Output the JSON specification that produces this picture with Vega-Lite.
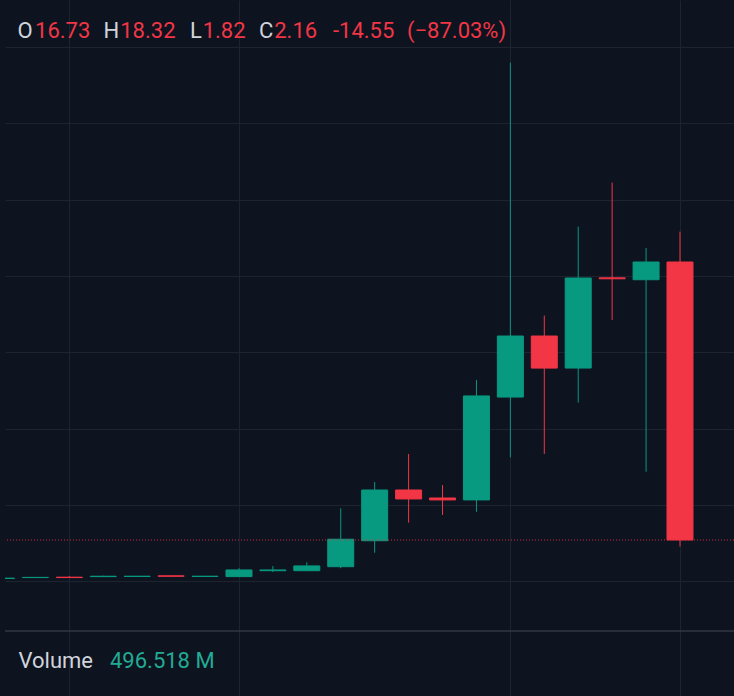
{
  "$schema": "https://vega.github.io/schema/vega-lite/v6.json",
  "width": 729,
  "height": 696,
  "autosize": {"type": "none"},
  "padding": {"left": 5, "top": 0, "right": 0, "bottom": 0},
  "background": "#0e1320",
  "config": {
    "view": {"stroke": null},
    "axis": {"labels": false, "ticks": false, "domain": false, "title": null, "grid": true, "gridColor": "#1e2330", "gridWidth": 1}
  },
  "layer": [
    {
      "data": {
        "values": [
          {"i": 0, "open": 0.14, "high": 0.17, "low": 0.13, "close": 0.16},
          {"i": 1, "open": 0.19, "high": 0.21, "low": 0.18, "close": 0.20},
          {"i": 2, "open": 0.21, "high": 0.27, "low": 0.18, "close": 0.19},
          {"i": 3, "open": 0.24, "high": 0.29, "low": 0.22, "close": 0.26},
          {"i": 4, "open": 0.25, "high": 0.27, "low": 0.24, "close": 0.26},
          {"i": 5, "open": 0.28, "high": 0.29, "low": 0.25, "close": 0.26},
          {"i": 6, "open": 0.25, "high": 0.27, "low": 0.24, "close": 0.26},
          {"i": 7, "open": 0.24, "high": 0.68, "low": 0.22, "close": 0.59},
          {"i": 8, "open": 0.55, "high": 0.79, "low": 0.48, "close": 0.59},
          {"i": 9, "open": 0.55, "high": 0.99, "low": 0.53, "close": 0.80},
          {"i": 10, "open": 0.76, "high": 3.82, "low": 0.68, "close": 2.20},
          {"i": 11, "open": 2.12, "high": 5.20, "low": 1.49, "close": 4.78},
          {"i": 12, "open": 4.78, "high": 6.67, "low": 3.07, "close": 4.31},
          {"i": 13, "open": 4.36, "high": 5.04, "low": 3.47, "close": 4.26},
          {"i": 14, "open": 4.26, "high": 10.55, "low": 3.64, "close": 9.71},
          {"i": 15, "open": 9.65, "high": 27.18, "low": 6.49, "close": 12.85},
          {"i": 16, "open": 12.85, "high": 13.92, "low": 6.67, "close": 11.17},
          {"i": 17, "open": 11.17, "high": 18.58, "low": 9.36, "close": 15.89},
          {"i": 18, "open": 15.90, "high": 20.89, "low": 13.69, "close": 15.85},
          {"i": 19, "open": 15.80, "high": 17.46, "low": 5.74, "close": 16.73},
          {"i": 20, "open": 16.73, "high": 18.32, "low": 1.82, "close": 2.16}
        ]
      },
      "layer": [
        {
          "mark": {"type": "rule", "clip": true, "strokeWidth": 1},
          "encoding": {
            "x": {"field": "i", "type": "quantitative", "scale": {"domain": [0.1032, 21.592], "nice": false, "zero": false, "padding": 0}, "axis": {"values": [2, 7, 15, 20]}},
            "y": {"field": "low", "type": "quantitative", "scale": {"domain": [-6.017, 30.461], "nice": false, "zero": false, "padding": 0}, "axis": {"values": [0, 4, 8, 12, 16, 20, 24, 28]}},
            "y2": {"field": "high"},
            "color": {"condition": {"test": "datum.close < datum.open", "value": "#f23645"}, "value": "#089981"}
          }
        },
        {
          "mark": {"type": "bar", "clip": true, "width": 26, "strokeWidth": 1},
          "encoding": {
            "x": {"field": "i", "type": "quantitative"},
            "y": {"field": "open", "type": "quantitative"},
            "y2": {"field": "close"},
            "color": {"condition": {"test": "datum.close < datum.open", "value": "#f23645"}, "value": "#089981"},
            "stroke": {"condition": {"test": "datum.close < datum.open", "value": "#f23645"}, "value": "#089981"}
          }
        }
      ]
    },
    {
      "data": {"values": [{}]},
      "layer": [
        {"mark": {"type": "rule", "color": "#f23645", "opacity": 0.85, "strokeDash": [1, 2], "strokeWidth": 1}, "encoding": {"y": {"datum": 2.16}}},
        {"mark": {"type": "rule", "color": "#323742", "strokeWidth": 1.5}, "encoding": {"y": {"datum": -2.61}}},
        {"mark": {"type": "text", "align": "left", "baseline": "alphabetic", "font": "Roboto", "fontSize": 22, "color": "#d1d4dc", "text": "O"}, "encoding": {"x": {"datum": 0.4716}, "y": {"datum": 28.47}}},
        {"mark": {"type": "text", "align": "left", "baseline": "alphabetic", "font": "Roboto", "fontSize": 22, "color": "#f23645", "text": "16.73"}, "encoding": {"x": {"datum": 0.99}, "y": {"datum": 28.47}}},
        {"mark": {"type": "text", "align": "left", "baseline": "alphabetic", "font": "Roboto", "fontSize": 22, "color": "#d1d4dc", "text": "H"}, "encoding": {"x": {"datum": 3.0066}, "y": {"datum": 28.47}}},
        {"mark": {"type": "text", "align": "left", "baseline": "alphabetic", "font": "Roboto", "fontSize": 22, "color": "#f23645", "text": "18.32"}, "encoding": {"x": {"datum": 3.5}, "y": {"datum": 28.47}}},
        {"mark": {"type": "text", "align": "left", "baseline": "alphabetic", "font": "Roboto", "fontSize": 22, "color": "#d1d4dc", "text": "L"}, "encoding": {"x": {"datum": 5.5564}, "y": {"datum": 28.47}}},
        {"mark": {"type": "text", "align": "left", "baseline": "alphabetic", "font": "Roboto", "fontSize": 22, "color": "#f23645", "text": "1.82"}, "encoding": {"x": {"datum": 5.93}, "y": {"datum": 28.47}}},
        {"mark": {"type": "text", "align": "left", "baseline": "alphabetic", "font": "Roboto", "fontSize": 22, "color": "#d1d4dc", "text": "C"}, "encoding": {"x": {"datum": 7.5903}, "y": {"datum": 28.47}}},
        {"mark": {"type": "text", "align": "left", "baseline": "alphabetic", "font": "Roboto", "fontSize": 22, "color": "#f23645", "text": "2.16"}, "encoding": {"x": {"datum": 8.04}, "y": {"datum": 28.47}}},
        {"mark": {"type": "text", "align": "left", "baseline": "alphabetic", "font": "Roboto", "fontSize": 22, "color": "#f23645", "text": "-14.55"}, "encoding": {"x": {"datum": 9.7715}, "y": {"datum": 28.47}}},
        {"mark": {"type": "text", "align": "left", "baseline": "alphabetic", "font": "Roboto", "fontSize": 22, "color": "#f23645", "text": "(−87.03%)"}, "encoding": {"x": {"datum": 11.9528}, "y": {"datum": 28.47}}},
        {"mark": {"type": "text", "align": "left", "baseline": "alphabetic", "font": "Roboto", "fontSize": 22, "color": "#d1d4dc", "text": "Volume"}, "encoding": {"x": {"datum": 0.5011}, "y": {"datum": -4.549}}},
        {"mark": {"type": "text", "align": "left", "baseline": "alphabetic", "font": "Roboto", "fontSize": 22, "color": "#22ab94", "text": "496.518 M"}, "encoding": {"x": {"datum": 3.1982}, "y": {"datum": -4.549}}}
      ]
    }
  ]
}
